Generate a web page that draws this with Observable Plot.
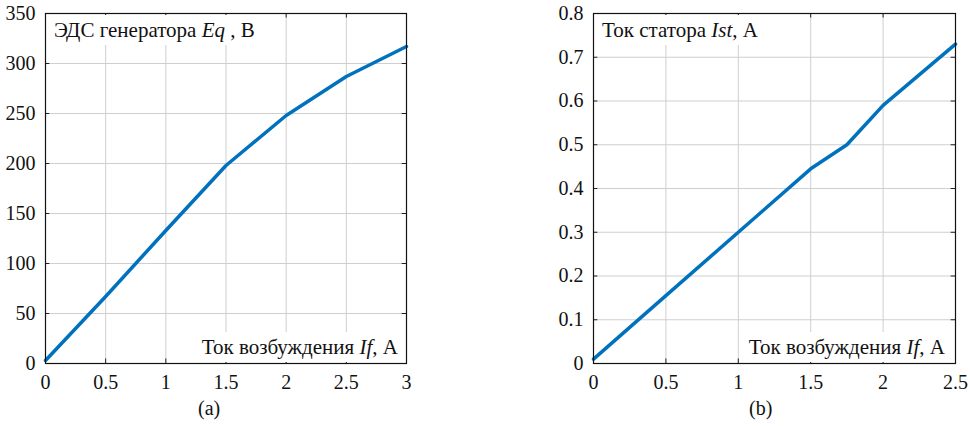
<!DOCTYPE html>
<html>
<head>
<meta charset="utf-8">
<script src="https://cdn.jsdelivr.net/npm/d3@7"></script>
<script src="https://cdn.jsdelivr.net/npm/@observablehq/plot@0.6"></script>
<style>
  html, body { margin: 0; padding: 0; background: #fff; }
  body { width: 970px; height: 426px; position: relative; overflow: hidden; font-family: "Liberation Serif", "Times New Roman", Times, "DejaVu Serif", serif; }
  .panel { position: absolute; top: 0; }
  .lbl { position: absolute; background: #fff; color: #111; font-size: 21px; white-space: nowrap; line-height: 30px; padding: 0 4px; }
  .cap { position: absolute; font-size: 20px; color: #111; }
  i { font-style: italic; }
</style>
</head>
<body>
<div id="pa" class="panel" style="left:0px;"></div>
<div id="pb" class="panel" style="left:540px;"></div>
<div class="lbl" style="left:50px; top:15px;">ЭДС генератора <i>Eq</i> , В</div>
<div class="lbl" style="right:568px; top:332px;">Ток возбуждения <i>If</i>, А</div>
<div class="lbl" style="left:598px; top:15px;">Ток статора <i>Ist</i>, А</div>
<div class="lbl" style="right:21px; top:332px;">Ток возбуждения <i>If</i>, А</div>
<div class="cap" style="left:198px; top:397px;">(a)</div>
<div class="cap" style="left:749px; top:397px;">(b)</div>
<script>
// Panel (a): EMF vs excitation current
const ifA = [0, 0.5, 1, 1.5, 2, 2.5, 3];
const eqA = [3, 67, 133, 198, 248, 287, 317];
const xTicksA = [0, 0.5, 1, 1.5, 2, 2.5, 3];
const yTicksA = [0, 50, 100, 150, 200, 250, 300, 350];

// Panel (b): stator current vs excitation current
const ifB = [0, 0.5, 1, 1.5, 1.75, 2, 2.5];
const istB = [0.01, 0.155, 0.3, 0.445, 0.5, 0.59, 0.73];
const xTicksB = [0, 0.5, 1, 1.5, 2, 2.5];
const yTicksB = [0, 0.1, 0.2, 0.3, 0.4, 0.5, 0.6, 0.7, 0.8];

const blue = "#0072BD";
const fontFamily = "'Liberation Serif', 'Times New Roman', Times, 'DejaVu Serif', serif";

function panel(xs, ys, xTicks, yTicks, xDom, yDom, width, mLeft, mRight) {
  const data = xs.map((x, i) => ({x, y: ys[i]}));
  const ty = (yDom[1] - yDom[0]) * 0.013;
  const tx = (xDom[1] - xDom[0]) * 0.012;
  return Plot.plot({
    width, height: 395,
    marginLeft: mLeft, marginRight: mRight, marginTop: 13, marginBottom: 32,
    style: {fontFamily, fontSize: "20px", color: "#111", background: "#fff"},
    x: {domain: xDom},
    y: {domain: yDom},
    marks: [
      Plot.gridX(xTicks, {stroke: "#cfcfcf", strokeOpacity: 1}),
      Plot.gridY(yTicks, {stroke: "#cfcfcf", strokeOpacity: 1}),
      Plot.ruleX(xTicks, {y1: yDom[0], y2: yDom[0] + ty, stroke: "#222"}),
      Plot.ruleX(xTicks, {y1: yDom[1], y2: yDom[1] - ty, stroke: "#222"}),
      Plot.ruleY(yTicks, {x1: xDom[0], x2: xDom[0] + tx, stroke: "#222"}),
      Plot.ruleY(yTicks, {x1: xDom[1], x2: xDom[1] - tx, stroke: "#222"}),
      Plot.axisX(xTicks, {tickSize: 0, tickPadding: 11, label: null, tickFormat: d3.format("~g"), fontFamily}),
      Plot.axisY(yTicks, {tickSize: 0, tickPadding: 10, label: null, tickFormat: d3.format("~g"), fontFamily}),
      Plot.line(data, {x: "x", y: "y", stroke: blue, strokeWidth: 3.5, strokeLinejoin: "round"}),
      Plot.frame({stroke: "#111", strokeWidth: 1.2})
    ]
  });
}

document.getElementById("pa").append(panel(ifA, eqA, xTicksA, yTicksA, [0, 3], [0, 350], 420, 45, 14));
document.getElementById("pb").append(panel(ifB, istB, xTicksB, yTicksB, [0, 2.5], [0, 0.8], 430, 53, 15));
</script>
</body>
</html>
